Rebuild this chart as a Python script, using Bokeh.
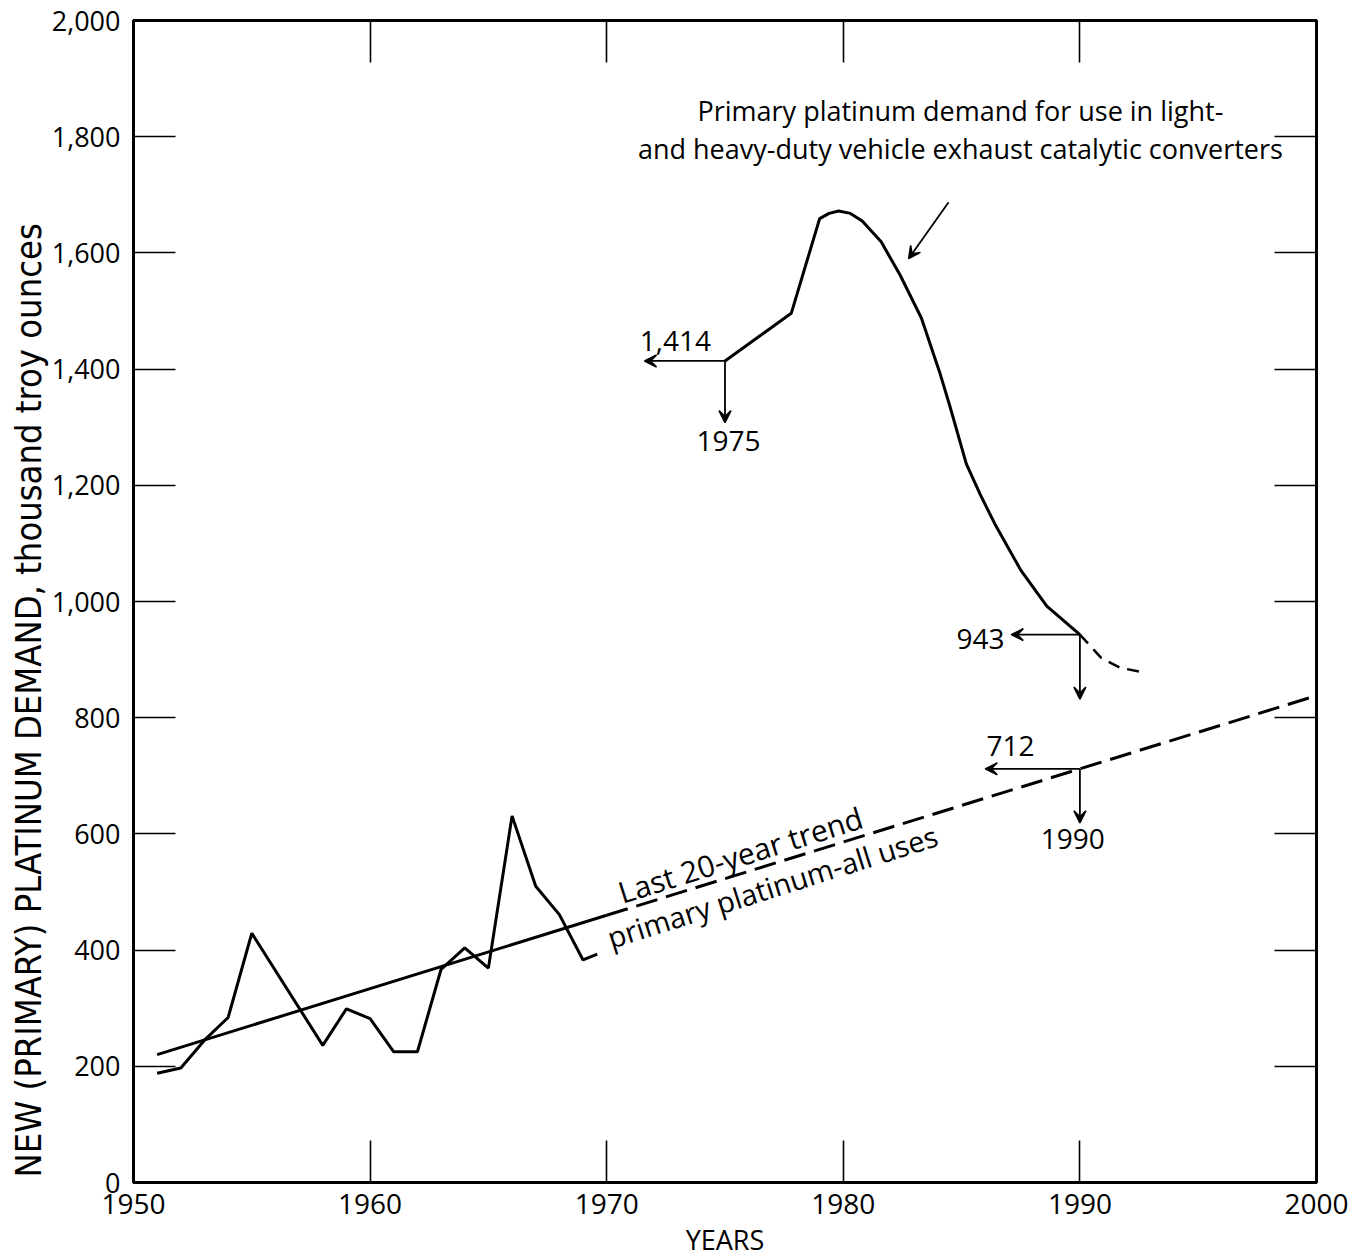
from bokeh.plotting import figure
from bokeh.models import LinearAxis, FixedTicker, NumeralTickFormatter, Arrow, VeeHead, Label, Range1d, Title
from bokeh.embed import file_html
from bokeh.resources import INLINE

# ---------------- data ----------------
# historical primary platinum demand (thousand troy ounces)
hist_years = [1951, 1952, 1953, 1954, 1955, 1958, 1959, 1960, 1961, 1962,
              1963, 1964, 1965, 1966, 1967, 1968, 1969, 1969.6]
hist_values = [188, 197, 245, 284, 429, 236, 299, 282, 225, 225,
               367, 404, 369, 631, 510, 461, 383, 393]

# last 20-year trend, all uses
trend_years_solid = [1951, 1970]
trend_values_solid = [220, 460]
trend_years_proj = [1970, 1990, 2000]
trend_values_proj = [460, 712, 838]

# catalytic converter demand projection
cat_years = [1975, 1977.8, 1979.0, 1979.4, 1979.8, 1980.3, 1980.8, 1981.6, 1982.4, 1983.3,
             1984.1, 1984.5, 1985.2, 1985.8, 1986.4, 1987.5, 1988.6, 1990]
cat_values = [1414, 1496, 1659, 1668, 1672, 1668, 1655, 1619, 1562, 1488,
              1391, 1337, 1237, 1183, 1134, 1054, 992, 943]
cat_years_ext = [1990, 1990.9, 1991.7, 1992.7]
cat_values_ext = [943, 903, 886, 878]

# callouts
callout_years = [1975, 1990, 1990]
callout_values = [1414, 943, 712]
callout_value_text = ["1,414", "943", "712"]

x_ticks = [1950, 1960, 1970, 1980, 1990, 2000]
y_ticks = [0, 200, 400, 600, 800, 1000, 1200, 1400, 1600, 1800, 2000]

FONT = "'Open Sans', 'DejaVu Sans', sans-serif"
YFONT = "'DejaVu Sans Condensed', 'Liberation Sans Narrow', 'DejaVu Sans', sans-serif"

p = figure(width=1350, height=1260,
           x_range=Range1d(1950, 2000), y_range=Range1d(0, 2000),
           output_backend="svg", toolbar_location=None,
           min_border_left=133, min_border_right=34,
           min_border_top=20, min_border_bottom=75)
p.grid.visible = False
p.background_fill_color = "white"
p.border_fill_color = "white"
p.outline_line_color = "black"
p.outline_line_width = 3


def style_axis(ax, ticks, show_labels):
    ax.ticker = FixedTicker(ticks=ticks)
    ax.major_tick_in = 42
    ax.major_tick_out = 0
    ax.minor_tick_in = 0
    ax.minor_tick_out = 0
    ax.axis_line_width = 3
    ax.axis_line_color = "black"
    ax.major_tick_line_width = 1.6
    ax.major_tick_line_color = "black"
    if show_labels:
        ax.major_label_text_font = FONT
        ax.major_label_text_font_size = "28px"
        ax.major_label_text_color = "black"
        ax.major_label_standoff = 10
    else:
        ax.major_label_overrides = {t: "" for t in ticks}
        ax.major_label_text_font_size = "1px"
        ax.major_label_standoff = 0


xa = p.xaxis[0]
style_axis(xa, x_ticks, True)
xa.major_label_standoff = 11
xa.axis_label = "YEARS"
xa.axis_label_text_font = FONT
xa.axis_label_text_font_size = "27px"
xa.axis_label_text_font_style = "normal"
xa.axis_label_text_color = "black"
xa.axis_label_standoff = 4

ya = p.yaxis[0]
style_axis(ya, y_ticks, True)
ya.formatter = NumeralTickFormatter(format="0,0")
ya.major_label_text_font_size = "27px"
ya.major_label_standoff = 13

top = LinearAxis()
style_axis(top, x_ticks[1:-1], False)
p.add_layout(top, "above")
right = LinearAxis()
style_axis(right, y_ticks[1:-1], False)
p.add_layout(right, "right")

# y-axis title, anchored near the bottom of the frame as in the original
ytitle = Title(text="NEW (PRIMARY) PLATINUM DEMAND, thousand troy ounces",
               text_font=YFONT, text_font_size="36px", text_font_style="normal",
               text_color="black", align="left", offset=5, standoff=0)
p.add_layout(ytitle, "left")

# ---------------- lines ----------------
p.line(hist_years, hist_values, line_color="black", line_width=3)
p.line(trend_years_solid, trend_values_solid, line_color="black", line_width=3)
p.line(trend_years_proj, trend_values_proj, line_color="black", line_width=3,
       line_dash="22 9")
p.line(cat_years, cat_values, line_color="black", line_width=3, line_join="round")
p.line(cat_years_ext, cat_values_ext, line_color="black", line_width=2.5,
       line_dash="12 8")

# ---------------- callout arrows ----------------
left_ends = [1971.6, 1987.1, 1986.0]
down_ends = [1308, 832, 619]


def head():
    return VeeHead(size=12, fill_color="black", line_color="black", line_width=1.5)


for yr, val, lx, dy in zip(callout_years, callout_values, left_ends, down_ends):
    p.add_layout(Arrow(x_start=yr, y_start=val, x_end=lx, y_end=val,
                       line_width=1.8, line_color="black", end=head()))
    p.add_layout(Arrow(x_start=yr, y_start=val, x_end=yr, y_end=dy,
                       line_width=1.8, line_color="black", end=head()))

# pointer arrow to the converter curve
p.add_layout(Arrow(x_start=1984.45, y_start=1687, x_end=1982.76, y_end=1590,
                   line_width=1.8, line_color="black", end=head()))


def lbl(x, y, text, size="28px", align="center", angle=0, font=FONT):
    lab = Label(x=x, y=y, text=text, text_font=font, text_font_size=size,
                text_align=align, text_baseline="middle", text_color="black",
                angle=angle, angle_units="deg")
    p.add_layout(lab)


# callout texts
lbl(1972.9, 1449, callout_value_text[0])
lbl(1975.15, 1277, str(callout_years[0]))
lbl(1985.8, 936, callout_value_text[1])
lbl(1987.07, 752, callout_value_text[2])
lbl(1989.7, 592, str(callout_years[1]))

# annotation for converter curve
lbl(1984.95, 1845, "Primary platinum demand for use in light-", size="27px")
lbl(1984.95, 1780, "and heavy-duty vehicle exhaust catalytic converters", size="27px")

# trend labels
lbl(1975.65, 564, "Last 20-year trend", size="30px", angle=17.5)
lbl(1977.0, 510, "primary platinum-all uses", size="29px", angle=17.5)

open("out.html", "w").write(file_html(p, INLINE))
